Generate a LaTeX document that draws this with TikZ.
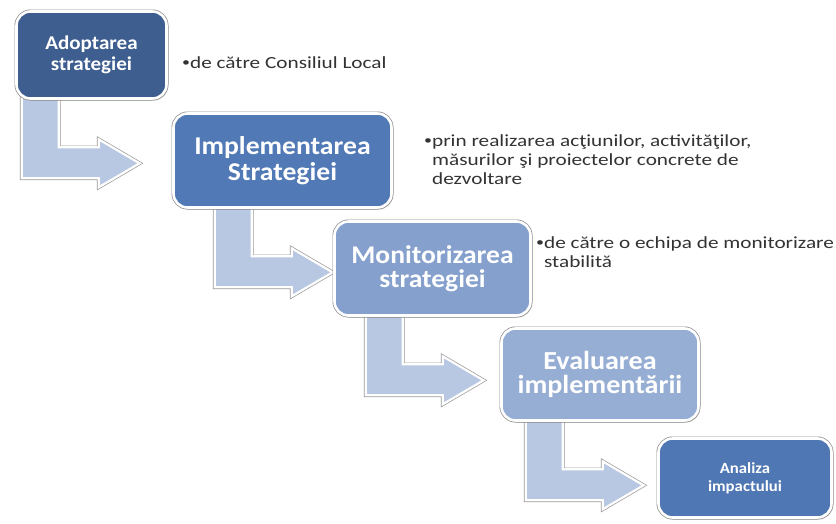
\documentclass[tikz,border=0pt]{standalone}
\usepackage{fontspec}
\setmainfont{Carlito}
\newfontfamily\sidefont[FakeStretch=1.25]{Carlito}
\newfontfamily\boxfont[FakeStretch=1.08]{Carlito}
\usetikzlibrary{calc,shadows}
\pgfdeclarelayer{back}
\pgfdeclarelayer{bg}
\pgfsetlayers{back,bg,main}
\definecolor{cA}{HTML}{3D5E8F}
\definecolor{cB}{HTML}{5079B5}
\definecolor{cC}{HTML}{85A0CD}
\definecolor{cD}{HTML}{97AED4}
\definecolor{cE}{HTML}{4F77B3}
\definecolor{cArr}{HTML}{B9C8E2}
\definecolor{cTxt}{HTML}{333333}
\newcommand{\smallbul}{\raisebox{0.15ex}{\scalebox{0.75}{•}}}
\tikzset{
  stepbox/.style={draw=white, line width=2.6pt, rounded corners=14pt, text=white,
    align=center, inner sep=0pt,
    preaction={draw=black!45, line width=4pt},
    drop shadow={opacity=0.25, shadow xshift=1.5pt, shadow yshift=-2pt}},
  arrowshape/.style={fill=cArr, draw=white, line width=2.2pt, line join=miter,
    preaction={draw=black!40, line width=3.6pt}},
  sidetext/.style={inner sep=0pt, text=cTxt, font=\sidefont\fontsize{17}{19}\selectfont},
  bentarrow/.pic={
    \path[arrowshape] (0,-8) -- (37,-8) -- (37,46) -- (77,46) -- (77,38) -- (118,62)
      -- (77,86) -- (77,77) -- (0,77) -- cycle;
  }
}
\begin{document}
\begin{tikzpicture}[x=1pt, y=-1pt]
\begin{pgfonlayer}{back}
\fill[white] (0,0) rectangle (836,523);
\end{pgfonlayer}
\useasboundingbox (0,0) rectangle (836,523);

\node[stepbox, fill=cA, minimum width=150pt, minimum height=87pt,
  font=\boxfont\bfseries\fontsize{19.5}{21}\selectfont] (b1) at (91.5,55) {Adoptarea\\strategiei};
\node[stepbox, fill=cB, minimum width=218pt, minimum height=94pt,
  font=\boxfont\bfseries\fontsize{25.6}{26}\selectfont] (b2) at (282.5,160.5) {Implementarea\\Strategiei};
\node[stepbox, fill=cC, minimum width=196pt, minimum height=94pt,
  font=\boxfont\bfseries\fontsize{25.5}{24}\selectfont] (b3) at (432.5,268.5) {Monitorizarea\\strategiei};
\node[stepbox, fill=cD, minimum width=197pt, minimum height=92pt,
  font=\boxfont\bfseries\fontsize{26}{24}\selectfont] (b4) at (600,374.5) {Evaluarea\\implementării};
\node[stepbox, fill=cE, minimum width=173pt, minimum height=79pt,
  font=\boxfont\bfseries\fontsize{15.5}{18}\selectfont] (b5) at (745,478) {Analiza\\impactului};

\begin{pgfonlayer}{bg}
  \pic at ($(b1.south west)+(6.5,1.5)$) {bentarrow};
  \pic at ($(b2.south west)+(42.5,1.5)$) {bentarrow};
  \pic at ($(b3.south west)+(32.5,1.5)$) {bentarrow};
  \pic at ($(b4.south west)+(25.5,1.5)$) {bentarrow};
\end{pgfonlayer}

\node[sidetext, anchor=base west] (t1) at (182,68)
  {\begin{tabular}[t]{@{}l@{}l@{}}\smallbul&de către Consiliul Local\end{tabular}};
\node[sidetext, anchor=base west] (t2) at (424,146)
  {\begin{tabular}[t]{@{}l@{}l@{}}\smallbul&prin realizarea acţiunilor, activităţilor,\\
   &măsurilor şi proiectelor concrete de\\ &dezvoltare\end{tabular}};
\node[sidetext, anchor=base west] (t3) at (536,248)
  {\begin{tabular}[t]{@{}l@{}l@{}}\smallbul&de către o echipa de monitorizare\\ &stabilită\end{tabular}};
\end{tikzpicture}
\end{document}
